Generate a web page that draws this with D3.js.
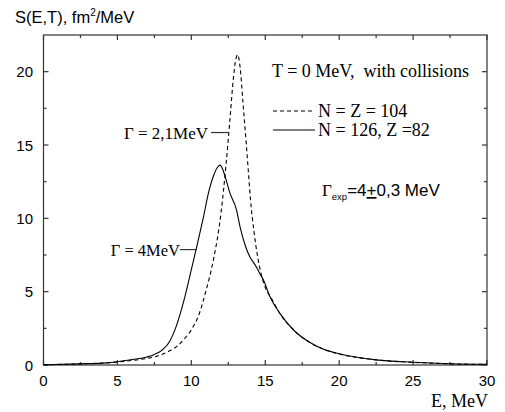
<!DOCTYPE html>
<html>
<head>
<meta charset="utf-8">
<script src="https://cdn.jsdelivr.net/npm/d3@7"></script>
<style>
  body { margin: 0; background: #fff; }
  svg text { fill: #000; }
  .sans { font-family: Arial, "Liberation Sans", sans-serif; }
  .serif { font-family: "Times New Roman", "Liberation Serif", serif; }
</style>
</head>
<body>
<div id="chart"></div>
<script>
const width = 505;
const height = 412;
const margin = { top: 35, right: 18, bottom: 47, left: 43.5 };

// N = Z = 104 (dashed)
const dashedE = [0, 2.5, 5, 6, 7, 7.5, 8, 8.5, 9, 9.5, 10, 10.5, 11, 11.5, 12, 12.35, 12.6, 12.85, 13.0, 13.14, 13.3, 13.5, 13.7, 13.85, 14.0, 14.25, 14.5, 14.75, 15.0, 15.5, 16, 17, 18, 19, 20, 22.5, 25, 27.5, 30];
const dashedS = [0.02, 0.08, 0.2, 0.31, 0.45, 0.55, 0.72, 0.95, 1.25, 1.75, 2.4, 3.4, 5.1, 7.2, 10.3, 13.7, 16.6, 19.6, 20.8, 21.15, 20.3, 17.8, 15.3, 13.3, 11.3, 9.0, 7.3, 6.1, 5.3, 4.4, 3.5, 2.3, 1.55, 1.05, 0.75, 0.35, 0.18, 0.08, 0.04];

// N = 126, Z = 82 (solid)
const solidE = [0, 2.5, 4, 5, 6, 7, 7.5, 8, 8.5, 9, 9.5, 10, 10.4, 10.8, 11.2, 11.5, 11.75, 11.94, 12.1, 12.3, 12.6, 13.05, 13.3, 13.63, 13.97, 14.2, 14.42, 14.65, 14.9, 15.3, 16, 17, 18, 19, 20, 22.5, 25, 27.5, 30];
const solidS = [0.02, 0.08, 0.13, 0.22, 0.37, 0.55, 0.72, 1.0, 1.55, 2.7, 4.4, 6.5, 8.2, 10.0, 11.9, 12.9, 13.45, 13.63, 13.4, 12.8, 11.75, 10.6, 9.4, 8.2, 7.35, 7.0, 6.65, 6.2, 5.75, 4.7, 3.5, 2.3, 1.55, 1.05, 0.77, 0.35, 0.19, 0.09, 0.05];

const xMajor = [0, 5, 10, 15, 20, 25, 30];
const yMajor = [0, 5, 10, 15, 20];

const svg = d3.select('#chart')
  .append('svg')
  .attr('width', width)
  .attr('height', height);

const innerWidth = width - margin.left - margin.right;
const innerHeight = height - margin.top - margin.bottom;

const x = d3.scaleLinear().domain([0, 30]).range([margin.left, margin.left + innerWidth]);
const y = d3.scaleLinear().domain([0, 22.5]).range([margin.top + innerHeight, margin.top]);

const axisColor = '#333';

// frame
svg.append('rect')
  .attr('x', x(0))
  .attr('y', y(22.5))
  .attr('width', x(30) - x(0))
  .attr('height', y(0) - y(22.5))
  .attr('fill', 'none')
  .attr('stroke', axisColor)
  .attr('stroke-width', 1.2);

// ticks (inward, on all four sides)
const xMinor = d3.range(2.5, 30, 5);
const yMinor = d3.range(2.5, 22.5, 5);

function tickLines(values, len, horizontal) {
  values.forEach(v => {
    if (horizontal) {
      svg.append('line').attr('x1', x(v)).attr('x2', x(v)).attr('y1', y(0)).attr('y2', y(0) - len)
        .attr('stroke', axisColor).attr('stroke-width', 1.2);
      svg.append('line').attr('x1', x(v)).attr('x2', x(v)).attr('y1', y(22.5)).attr('y2', y(22.5) + len)
        .attr('stroke', axisColor).attr('stroke-width', 1.2);
    } else {
      svg.append('line').attr('y1', y(v)).attr('y2', y(v)).attr('x1', x(0)).attr('x2', x(0) + len)
        .attr('stroke', axisColor).attr('stroke-width', 1.2);
      svg.append('line').attr('y1', y(v)).attr('y2', y(v)).attr('x1', x(30)).attr('x2', x(30) - len)
        .attr('stroke', axisColor).attr('stroke-width', 1.2);
    }
  });
}
tickLines(xMajor, 5, true);
tickLines(xMinor, 3, true);
tickLines(yMajor, 5, false);
tickLines(yMinor, 3, false);

// tick labels
svg.append('g').selectAll('text')
  .data(xMajor)
  .enter()
  .append('text')
  .attr('class', 'sans')
  .attr('x', d => x(d))
  .attr('y', 386)
  .attr('text-anchor', 'middle')
  .style('font-size', '15px')
  .text(d => d);

svg.append('g').selectAll('text')
  .data(yMajor)
  .enter()
  .append('text')
  .attr('class', 'sans')
  .attr('x', x(0) - 10.5)
  .attr('y', d => y(d) + 5.5)
  .attr('text-anchor', 'end')
  .style('font-size', '15px')
  .text(d => d);

// curves
const line = d3.line().curve(d3.curveMonotoneX);

svg.append('path')
  .datum(dashedE.map((e, i) => [x(e), y(dashedS[i])]))
  .attr('d', line)
  .attr('fill', 'none')
  .attr('stroke', '#000')
  .attr('stroke-width', 1.1)
  .attr('stroke-dasharray', '4,3');

svg.append('path')
  .datum(solidE.map((e, i) => [x(e), y(solidS[i])]))
  .attr('d', line)
  .attr('fill', 'none')
  .attr('stroke', '#000')
  .attr('stroke-width', 1.1);

// axis titles
const yTitle = svg.append('text')
  .attr('class', 'sans')
  .attr('x', 15)
  .attr('y', 23)
  .style('font-size', '16.5px');
yTitle.append('tspan').text('S(E,T), fm');
yTitle.append('tspan').attr('dy', -7).style('font-size', '10px').text('2');
yTitle.append('tspan').attr('dy', 7).text('/MeV');

svg.append('text')
  .attr('class', 'serif')
  .attr('x', 488)
  .attr('y', 407)
  .attr('text-anchor', 'end')
  .style('font-size', '18px')
  .text('E, MeV');

// annotations
svg.append('text')
  .attr('class', 'serif')
  .attr('x', 272)
  .attr('y', 77)
  .style('font-size', '18px')
  .style('white-space', 'pre')
  .text('T = 0 MeV,  with collisions');

// legend
const legendRows = [
  { label: 'N = Z = 104', dash: '4,3', yy: 111 },
  { label: 'N = 126, Z =82', dash: null, yy: 130 }
];
legendRows.forEach(r => {
  svg.append('line')
    .attr('x1', 273).attr('x2', 315)
    .attr('y1', r.yy).attr('y2', r.yy)
    .attr('stroke', '#000')
    .attr('stroke-width', 1.1)
    .attr('stroke-dasharray', r.dash);
  svg.append('text')
    .attr('class', 'serif')
    .attr('x', 318)
    .attr('y', r.yy + 6)
    .style('font-size', '18px')
    .text(r.label);
});

// width labels
svg.append('text')
  .attr('class', 'serif')
  .attr('x', 208)
  .attr('y', 139)
  .attr('text-anchor', 'end')
  .style('font-size', '17px')
  .text('Γ = 2,1MeV');
svg.append('line')
  .attr('x1', 211).attr('x2', x(12.5))
  .attr('y1', y(15.85)).attr('y2', y(15.85))
  .attr('stroke', '#333').attr('stroke-width', 1.2);

svg.append('text')
  .attr('class', 'serif')
  .attr('x', 180)
  .attr('y', 256)
  .attr('text-anchor', 'end')
  .style('font-size', '16.5px')
  .text('Γ = 4MeV');
svg.append('line')
  .attr('x1', 180).attr('x2', x(10.37))
  .attr('y1', y(7.87)).attr('y2', y(7.87))
  .attr('stroke', '#333').attr('stroke-width', 1.2);

const gexp = svg.append('text')
  .attr('x', 322)
  .attr('y', 196)
  .style('font-size', '17px');
gexp.append('tspan').attr('class', 'serif').text('Γ');
gexp.append('tspan').attr('class', 'sans').attr('dy', 4).style('font-size', '9.5px').text('exp');
gexp.append('tspan').attr('class', 'sans').attr('dy', -4).text('=4');
gexp.append('tspan').attr('class', 'sans').style('text-decoration', 'underline').text('+');
gexp.append('tspan').attr('class', 'sans').text('0,3 MeV');
</script>
</body>
</html>
